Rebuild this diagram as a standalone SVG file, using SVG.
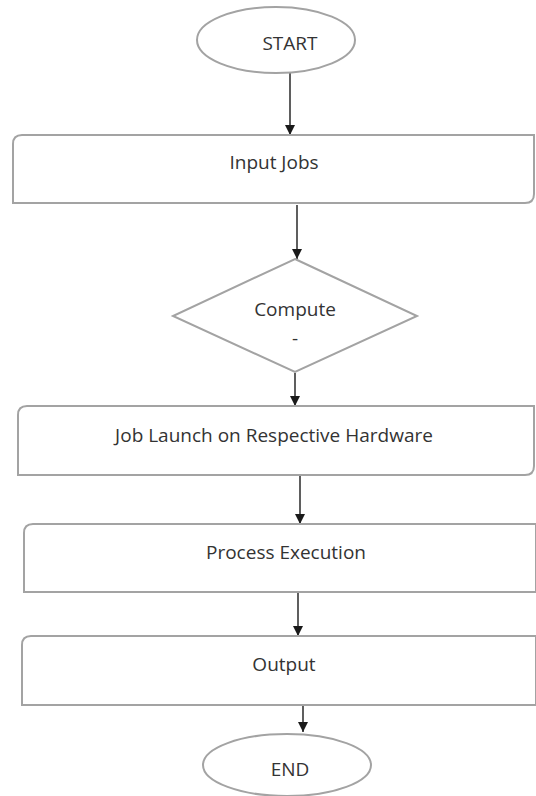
<svg xmlns="http://www.w3.org/2000/svg" width="536" height="796" viewBox="0 0 536 796">
<defs>
<marker id="ah" viewBox="0 0 10 10" refX="10" refY="5" markerWidth="10" markerHeight="10" markerUnits="userSpaceOnUse" orient="auto">
<path d="M0,0 L10,5 L0,10 z" fill="#1a1a1a"/>
</marker>
<style>
.shape{fill:#ffffff;stroke:#a3a3a3;stroke-width:2}
.lbl{font-family:"Open Sans","Noto Sans",sans-serif;font-size:19px;fill:#333333;text-anchor:middle}
.conn{stroke:#1a1a1a;stroke-width:1.4;fill:none;marker-end:url(#ah)}
</style>
</defs>
<rect width="536" height="796" fill="#ffffff"/>
<g id="connectors">
<line class="conn" x1="290" y1="73" x2="290" y2="135"/>
<line class="conn" x1="297" y1="205" x2="297" y2="259"/>
<line class="conn" x1="295" y1="373" x2="295" y2="406"/>
<line class="conn" x1="300" y1="476" x2="300" y2="524"/>
<line class="conn" x1="298" y1="593" x2="298" y2="636"/>
<line class="conn" x1="303" y1="706" x2="303" y2="732"/>
</g>
<g id="start">
<ellipse class="shape" cx="276" cy="40" rx="79" ry="33"/>
<text class="lbl" x="290" y="50">START</text>
</g>
<g id="input-jobs">
<path class="shape" d="M13,203 L13,144 Q13,135 22,135 L534,135 L534,194 Q534,203 525,203 Z"/>
<text class="lbl" x="274" y="169">Input Jobs</text>
</g>
<g id="compute">
<path class="shape" d="M295,259 L417,316 L295,372 L173,316 Z"/>
<text class="lbl" x="295" y="316">Compute</text>
<text class="lbl" x="295" y="345">-</text>
</g>
<g id="job-launch">
<path class="shape" d="M18,475 L18,415 Q18,406 27,406 L534,406 L534,466 Q534,475 525,475 Z"/>
<text class="lbl" x="274" y="442">Job Launch on Respective Hardware</text>
</g>
<g id="process-execution">
<path class="shape" d="M24,592 L24,533 Q24,524 33,524 L536,524 L536,592 Z"/>
<text class="lbl" x="286" y="559">Process Execution</text>
</g>
<g id="output">
<path class="shape" d="M22,705 L22,645 Q22,636 31,636 L536,636 L536,705 Z"/>
<text class="lbl" x="284" y="671">Output</text>
</g>
<g id="end">
<ellipse class="shape" cx="287" cy="765" rx="84" ry="31"/>
<text class="lbl" x="290" y="776">END</text>
</g>
</svg>
